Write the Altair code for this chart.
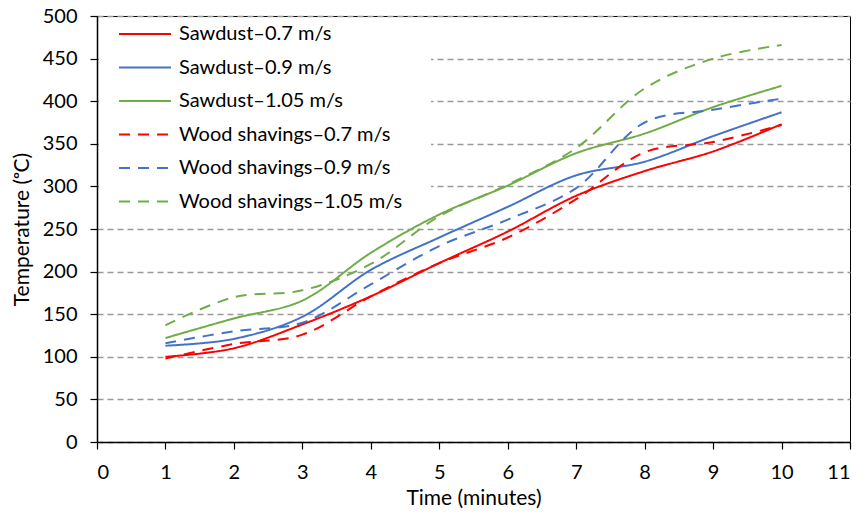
import altair as alt
import pandas as pd

times = [1, 2, 3, 4, 5, 6, 7, 8, 9, 10]
series_names = [
    "Sawdust\u20130.7 m/s",
    "Sawdust\u20130.9 m/s",
    "Sawdust\u20131.05 m/s",
    "Wood shavings\u20130.7 m/s",
    "Wood shavings\u20130.9 m/s",
    "Wood shavings\u20131.05 m/s",
]
sawdust_07 = [100, 110, 138, 171, 210, 247, 289, 318, 341, 373]
sawdust_09 = [113, 121, 147, 202, 240, 276, 313, 329, 359, 387]
sawdust_105 = [122, 145, 166, 222, 267, 301, 339, 362, 393, 418]
wood_07 = [98, 115, 126, 171, 210, 240, 285, 340, 352, 372]
wood_09 = [116, 130, 140, 185, 230, 261, 298, 375, 390, 403]
wood_105 = [137, 170, 178, 209, 265, 302, 345, 415, 450, 466]
all_values = [sawdust_07, sawdust_09, sawdust_105, wood_07, wood_09, wood_105]

colors = ["#FF0000", "#4472C4", "#70AD47", "#FF0000", "#4472C4", "#70AD47"]
dashes = [[1, 0], [1, 0], [1, 0], [11, 8], [11, 8], [11, 8]]

rows = []
for name, vals in zip(series_names, all_values):
    for t, v in zip(times, vals):
        rows.append({"series": name, "time": t, "temp": v})
df = pd.DataFrame(rows)

FONT = "Lato"

legend = alt.Legend(
    title=None,
    orient="none",
    legendX=16,
    legendY=-2,
    padding=5,
    symbolType="stroke",
    symbolSize=2704,
    symbolStrokeWidth=2,
    labelFontSize=20,
    labelFont=FONT,
    labelColor="black",
    labelOffset=7,
    clipHeight=30,
    rowPadding=3.5,
    labelLimit=400,
)

lines = (
    alt.Chart(df)
    .mark_line(interpolate="catmull-rom", strokeWidth=2)
    .encode(
        x=alt.X(
            "time:Q",
            scale=alt.Scale(domain=[0, 11], nice=False),
            axis=alt.Axis(
                values=list(range(0, 12)),
                title="Time (minutes)",
                grid=False,
                tickSize=7,
                labelPadding=13,
                titlePadding=5,
            ),
        ),
        y=alt.Y(
            "temp:Q",
            scale=alt.Scale(domain=[0, 500], nice=False),
            axis=alt.Axis(
                values=list(range(0, 501, 50)),
                title="Temperature (\u1d52C)",
                grid=True,
                gridDash=[6, 4],
                gridColor="#999999",
                gridWidth=1.5,
                tickSize=7,
                labelPadding=13,
                titlePadding=10,
            ),
        ),
        color=alt.Color(
            "series:N",
            scale=alt.Scale(domain=series_names, range=colors),
            legend=legend,
        ),
        strokeDash=alt.StrokeDash(
            "series:N",
            scale=alt.Scale(domain=series_names, range=dashes),
            legend=legend,
        ),
    )
)

# white panel behind the legend that hides the gridlines there
legend_bg = alt.Chart(pd.DataFrame({"a": [0]})).mark_rect(color="white").encode(
    x=alt.value(2), x2=alt.value(334), y=alt.value(2), y2=alt.value(200)
)

chart = (
    alt.layer(legend_bg, lines)
    .properties(
        width=753,
        height=426,
        autosize=alt.AutoSizeParams(type="none"),
        padding={"left": 89, "top": 8, "right": 5, "bottom": 67},
    )
    .configure_view(stroke="black", strokeWidth=1)
    .configure_axis(
        domainColor="black",
        domainWidth=1.5,
        tickColor="black",
        tickWidth=1.2,
        labelFont=FONT,
        labelFontSize=20,
        labelColor="black",
        titleFont=FONT,
        titleFontSize=21,
        titleFontWeight="normal",
        titleColor="black",
    )
)

chart.save("out.html", embed_options={"renderer": "svg", "actions": False})
